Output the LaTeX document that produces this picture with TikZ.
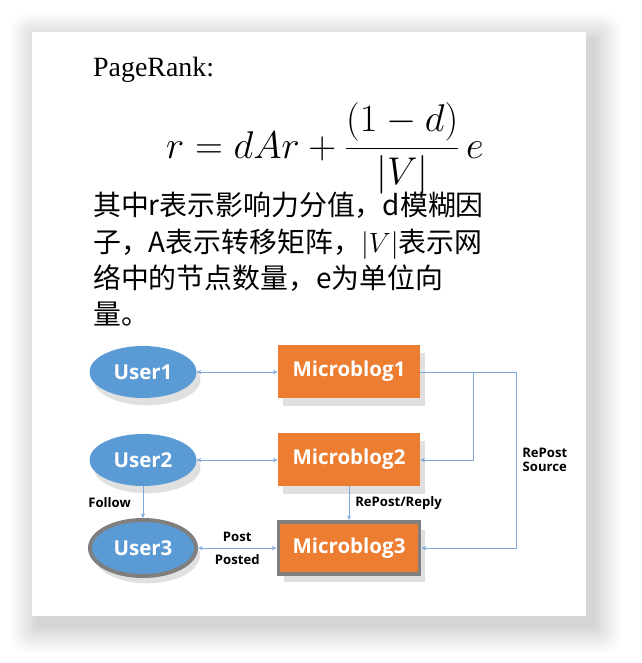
\RequirePackage{fix-cm}
\documentclass[tikz,border=0pt]{standalone}
\usepackage{fontspec}
\setmainfont{Liberation Serif}
\newfontfamily\cjk{Noto Sans CJK SC}
\newfontfamily\uifont{Open Sans}
\usepackage{xcolor}
\usepackage{tikz}
\usetikzlibrary{shapes}
\usetikzlibrary{shapes.geometric}
\usetikzlibrary{arrows.meta}
\usetikzlibrary{shadows}
\usetikzlibrary{positioning}
\definecolor{userblue}{HTML}{5B9BD5}
\definecolor{blogorange}{HTML}{ED7D31}
\definecolor{rimgray}{HTML}{7F7F7F}
\definecolor{linkblue}{HTML}{7FA9DA}
\tikzset{
    usernode/.style = {ellipse, fill=userblue, text=white, inner sep=0pt,
        minimum width=32.1mm, minimum height=15.6mm,
        font=\uifont\bfseries\fontsize{17.5}{20}\selectfont,
        drop shadow={shadow xshift=1.2mm, shadow yshift=-2.2mm, opacity=0.12, fill=black}},
    blognode/.style = {rectangle, fill=blogorange, text=white, inner sep=0pt,
        minimum width=42.6mm, minimum height=15.9mm,
        font=\uifont\bfseries\fontsize{17.5}{20}\selectfont,
        drop shadow={shadow xshift=1.5mm, shadow yshift=-2.5mm, opacity=0.12, fill=black}},
    rim/.style = {draw=rimgray, line width=3.4pt},
    link/.style = {draw=linkblue, line width=0.8pt, arrows={-Stealth[length=4pt,width=3.5pt]}},
    biglink/.style = {draw=linkblue, line width=0.8pt, arrows={Stealth[length=4pt,width=3.5pt]-Stealth[length=4pt,width=3.5pt]}},
    tag/.style = {font=\uifont\bfseries\fontsize{11.2}{13}\selectfont, text=black, inner sep=2pt},
}

\begin{document}
\begin{tikzpicture}[x=0.3mm, y=-0.3mm]
\useasboundingbox (0,0) rectangle (642,663);
% card and its soft shadow
\foreach \i in {1,...,14}
    \fill[black, opacity=0.012, rounded corners=1.2*\i pt] (32-2*\i+7,32-2*\i+9) rectangle (586+2*\i+7,616+2*\i+9);
\fill[white] (32,32) rectangle (586,616);
% heading, formula and note
\node[anchor=base west, inner sep=0pt, font=\fontsize{23.8}{28}\selectfont] at (93,76) (title) {PageRank:};
\node[anchor=base west, inner sep=0pt, font=\fontsize{33}{39}\selectfont] at (166,158) (formula)
    {$\displaystyle r = dAr + \frac{(1-d)}{|V|}\,e$};
\node[anchor=north west, inner sep=0pt, align=left, font=\cjk\fontsize{23.8}{31}\selectfont] at (93,192) (note)
    {其中r表示影响力分值，d模糊因\\子，A表示转移矩阵，$|V|$表示网\\络中的节点数量，e为单位向\\量。};
% graph
\node[usernode] at (143,372) (u1) {User1};
\node[usernode] at (143,460) (u2) {User2};
\node[usernode, rim, minimum width=31.8mm, minimum height=16.8mm] at (143,548) (u3) {User3};
\node[blognode] at (349,371) (m1) {Microblog1};
\node[blognode] at (349,459) (m2) {Microblog2};
\node[blognode, rim, minimum width=42.3mm, minimum height=15.6mm] at (349,548) (m3) {Microblog3};
\coordinate (j1) at (473,372);
\coordinate (j2) at (516,372);
%
\draw[biglink] (u1) -- (m1.west |- u1);
\draw[biglink] (u2) -- (m2.west |- u2);
\draw[biglink] (u3) -- (m3) node[tag, midway, above=3pt] {Post} node[tag, midway, below=3pt] {Posted};
%
\draw[link] (u2) -- (u3) node[tag, midway, left=8pt] {Follow};
\draw[link] (m2) -- (m3) node[tag, midway, right=3pt] {RePost/Reply};
%
\draw[link] (m1.east |- j1) -- (j1) |- (m2.east |- 0,460);
\draw[link] (j1) -- (j2) |- (m3.east) node[tag, pos=0.25, right=3pt, align=center, font=\uifont\bfseries\fontsize{11.2}{12}\selectfont] {RePost\\Source};
\end{tikzpicture}
\end{document}
